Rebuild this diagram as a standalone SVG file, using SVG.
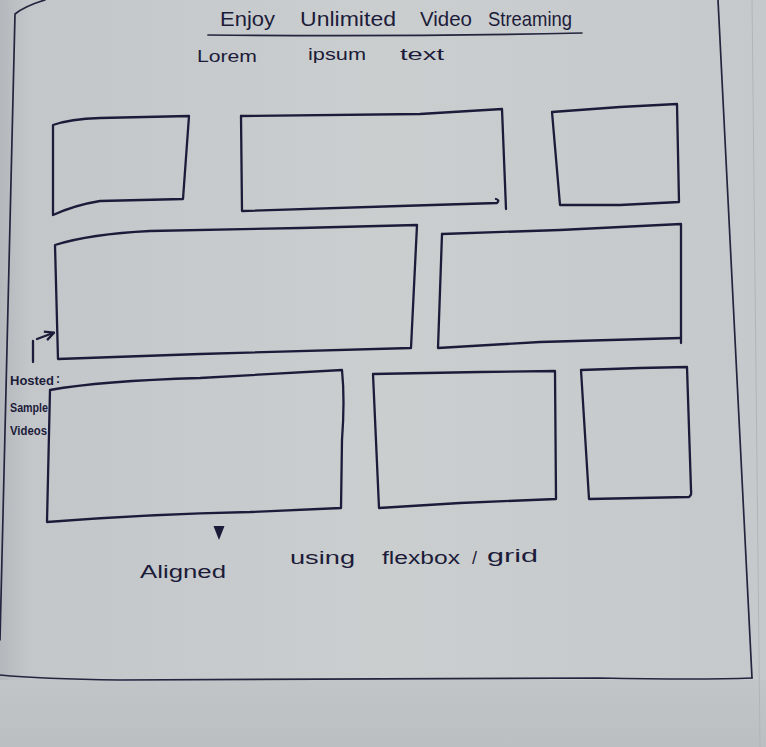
<svg xmlns="http://www.w3.org/2000/svg" width="766" height="747" viewBox="0 0 766 747">
  <defs>
    <linearGradient id="paper" x1="0" y1="0" x2="1" y2="0">
      <stop offset="0" stop-color="#b4b8bc"/>
      <stop offset="0.04" stop-color="#c4c7ca"/>
      <stop offset="0.5" stop-color="#cbcecf"/>
      <stop offset="1" stop-color="#c6c9cb"/>
    </linearGradient>
    <linearGradient id="lower" x1="0" y1="0" x2="0" y2="1">
      <stop offset="0" stop-color="#c2c5c7"/>
      <stop offset="1" stop-color="#bcbfc2"/>
    </linearGradient>
    <marker id="tip" viewBox="0 0 10 10" refX="8" refY="5" markerWidth="5" markerHeight="5" orient="auto">
      <path d="M1,1 L9,5 L1,9" fill="none" stroke="#1c1c3a" stroke-width="2"/>
    </marker>
    <marker id="tipDown" viewBox="0 0 10 10" refX="5" refY="5" markerWidth="6" markerHeight="6" orient="auto">
      <path d="M0,1 L10,5 L0,9 Z" fill="#1c1c3a"/>
    </marker>
  </defs>
  <style>
    .ink { fill: none; stroke: #1c1c3a; stroke-width: 2.3; stroke-linecap: round; stroke-linejoin: round; }
    .frame { fill: none; stroke: #24243e; stroke-width: 1.7; stroke-linecap: round; }
    .hand { font-family: "Liberation Sans", "DejaVu Sans", sans-serif; fill: #1c1c3a; }
    .title { font-size: 21px; }
    .sub { font-size: 17px; }
    .note { font-size: 12px; font-weight: bold; }
    .foot { font-size: 18px; }
  </style>

  <!-- paper -->
  <rect x="0" y="0" width="766" height="747" fill="url(#paper)"/>
  <rect x="0" y="680" width="766" height="67" fill="url(#lower)"/>
  <path d="M752,0 L760,747" stroke="#b2b5b8" stroke-width="1" fill="none"/>

  <!-- page frame -->
  <g id="frame">
    <path class="frame" d="M45,0 Q25,6 15,14 L0,640"/>
    <path class="frame" d="M718,0 L752,678"/>
    <path class="frame" d="M0,675 Q40,679 120,680 L600,678 Q700,680 752,678"/>
  </g>

  <!-- heading -->
  <g id="heading">
    <text class="hand title" x="220" y="26" textLength="55" lengthAdjust="spacingAndGlyphs">Enjoy</text>
    <text class="hand title" x="300" y="26" textLength="96" lengthAdjust="spacingAndGlyphs">Unlimited</text>
    <text class="hand title" x="420" y="26" textLength="52" lengthAdjust="spacingAndGlyphs">Video</text>
    <text class="hand title" x="488" y="26" textLength="84" lengthAdjust="spacingAndGlyphs">Streaming</text>
    <path class="frame" d="M208,35 Q400,37 582,33" stroke-width="2"/>
    <text class="hand sub" x="197" y="62" textLength="60" lengthAdjust="spacingAndGlyphs">Lorem</text>
    <text class="hand sub" x="308" y="60" textLength="58" lengthAdjust="spacingAndGlyphs">ipsum</text>
    <text class="hand sub" x="400" y="60" textLength="44" lengthAdjust="spacingAndGlyphs">text</text>
  </g>

  <!-- row 1 -->
  <g id="video-1">
    <path class="ink" d="M53,125 Q70,119 100,118 L189,116 L183,199 L100,201 Q75,205 53,215 Z"/>
  </g>
  <g id="video-2">
    <path class="ink" d="M241,116 L420,114 L502,109 L506,209"/>
    <path class="ink" d="M241,116 L242,211 L400,206 L497,203 Q500,200 496,199"/>
  </g>
  <g id="video-3">
    <path class="ink" d="M552,112 L620,107 L677,104 L679,202 L620,205 L560,205 L552,112 Z"/>
  </g>

  <!-- row 2 -->
  <g id="video-4">
    <path class="ink" d="M55,245 Q90,234 150,231 L300,228 L417,225 L411,348 L200,354 L58,359 Z"/>
  </g>
  <g id="video-5">
    <path class="ink" d="M442,234 L560,230 L681,224 L681,343"/>
    <path class="ink" d="M442,234 L438,348 L540,342 L681,338"/>
  </g>

  <!-- row 3 -->
  <g id="video-6">
    <path class="ink" d="M50,390 Q100,381 200,378 L342,370 Q345,400 342,440 L341,508 L250,512 Q150,514 47,522 L50,390"/>
  </g>
  <g id="video-7">
    <path class="ink" d="M373,374 L480,372 L555,371 L556,499 L460,503 L379,508 Z"/>
  </g>
  <g id="video-8">
    <path class="ink" d="M581,370 L640,368 L687,367 L691,490 Q692,495 689,497 L589,499 Z"/>
  </g>

  <!-- side note -->
  <g id="note">
    <text class="hand note" x="10" y="385" textLength="44" lengthAdjust="spacingAndGlyphs">Hosted</text>
    <text class="hand note" x="56" y="383">:</text>
    <text class="hand note" x="10" y="412" textLength="38" lengthAdjust="spacingAndGlyphs">Sample</text>
    <text class="hand note" x="10" y="435" textLength="37" lengthAdjust="spacingAndGlyphs">Videos</text>
  </g>

  <!-- footer -->
  <g id="footer">
    <text class="hand foot" x="140" y="578" textLength="86" lengthAdjust="spacingAndGlyphs">Aligned</text>
    <text class="hand foot" x="290" y="564" textLength="65" lengthAdjust="spacingAndGlyphs">using</text>
    <text class="hand foot" x="382" y="564" textLength="78" lengthAdjust="spacingAndGlyphs">flexbox</text>
    <text class="hand foot" x="472" y="564">/</text>
    <text class="hand foot" x="487" y="562" textLength="51" lengthAdjust="spacingAndGlyphs">grid</text>
  </g>

  <!-- pointers -->
  <g id="connectors">
    <path class="ink" stroke-width="2" d="M33,362 L33,341"/>
    <path class="ink" stroke-width="2" d="M37,339 L53,333" marker-end="url(#tip)"/>
    <path class="ink" stroke-width="2" d="M219,528 L219,533" marker-end="url(#tipDown)"/>
  </g>
</svg>
